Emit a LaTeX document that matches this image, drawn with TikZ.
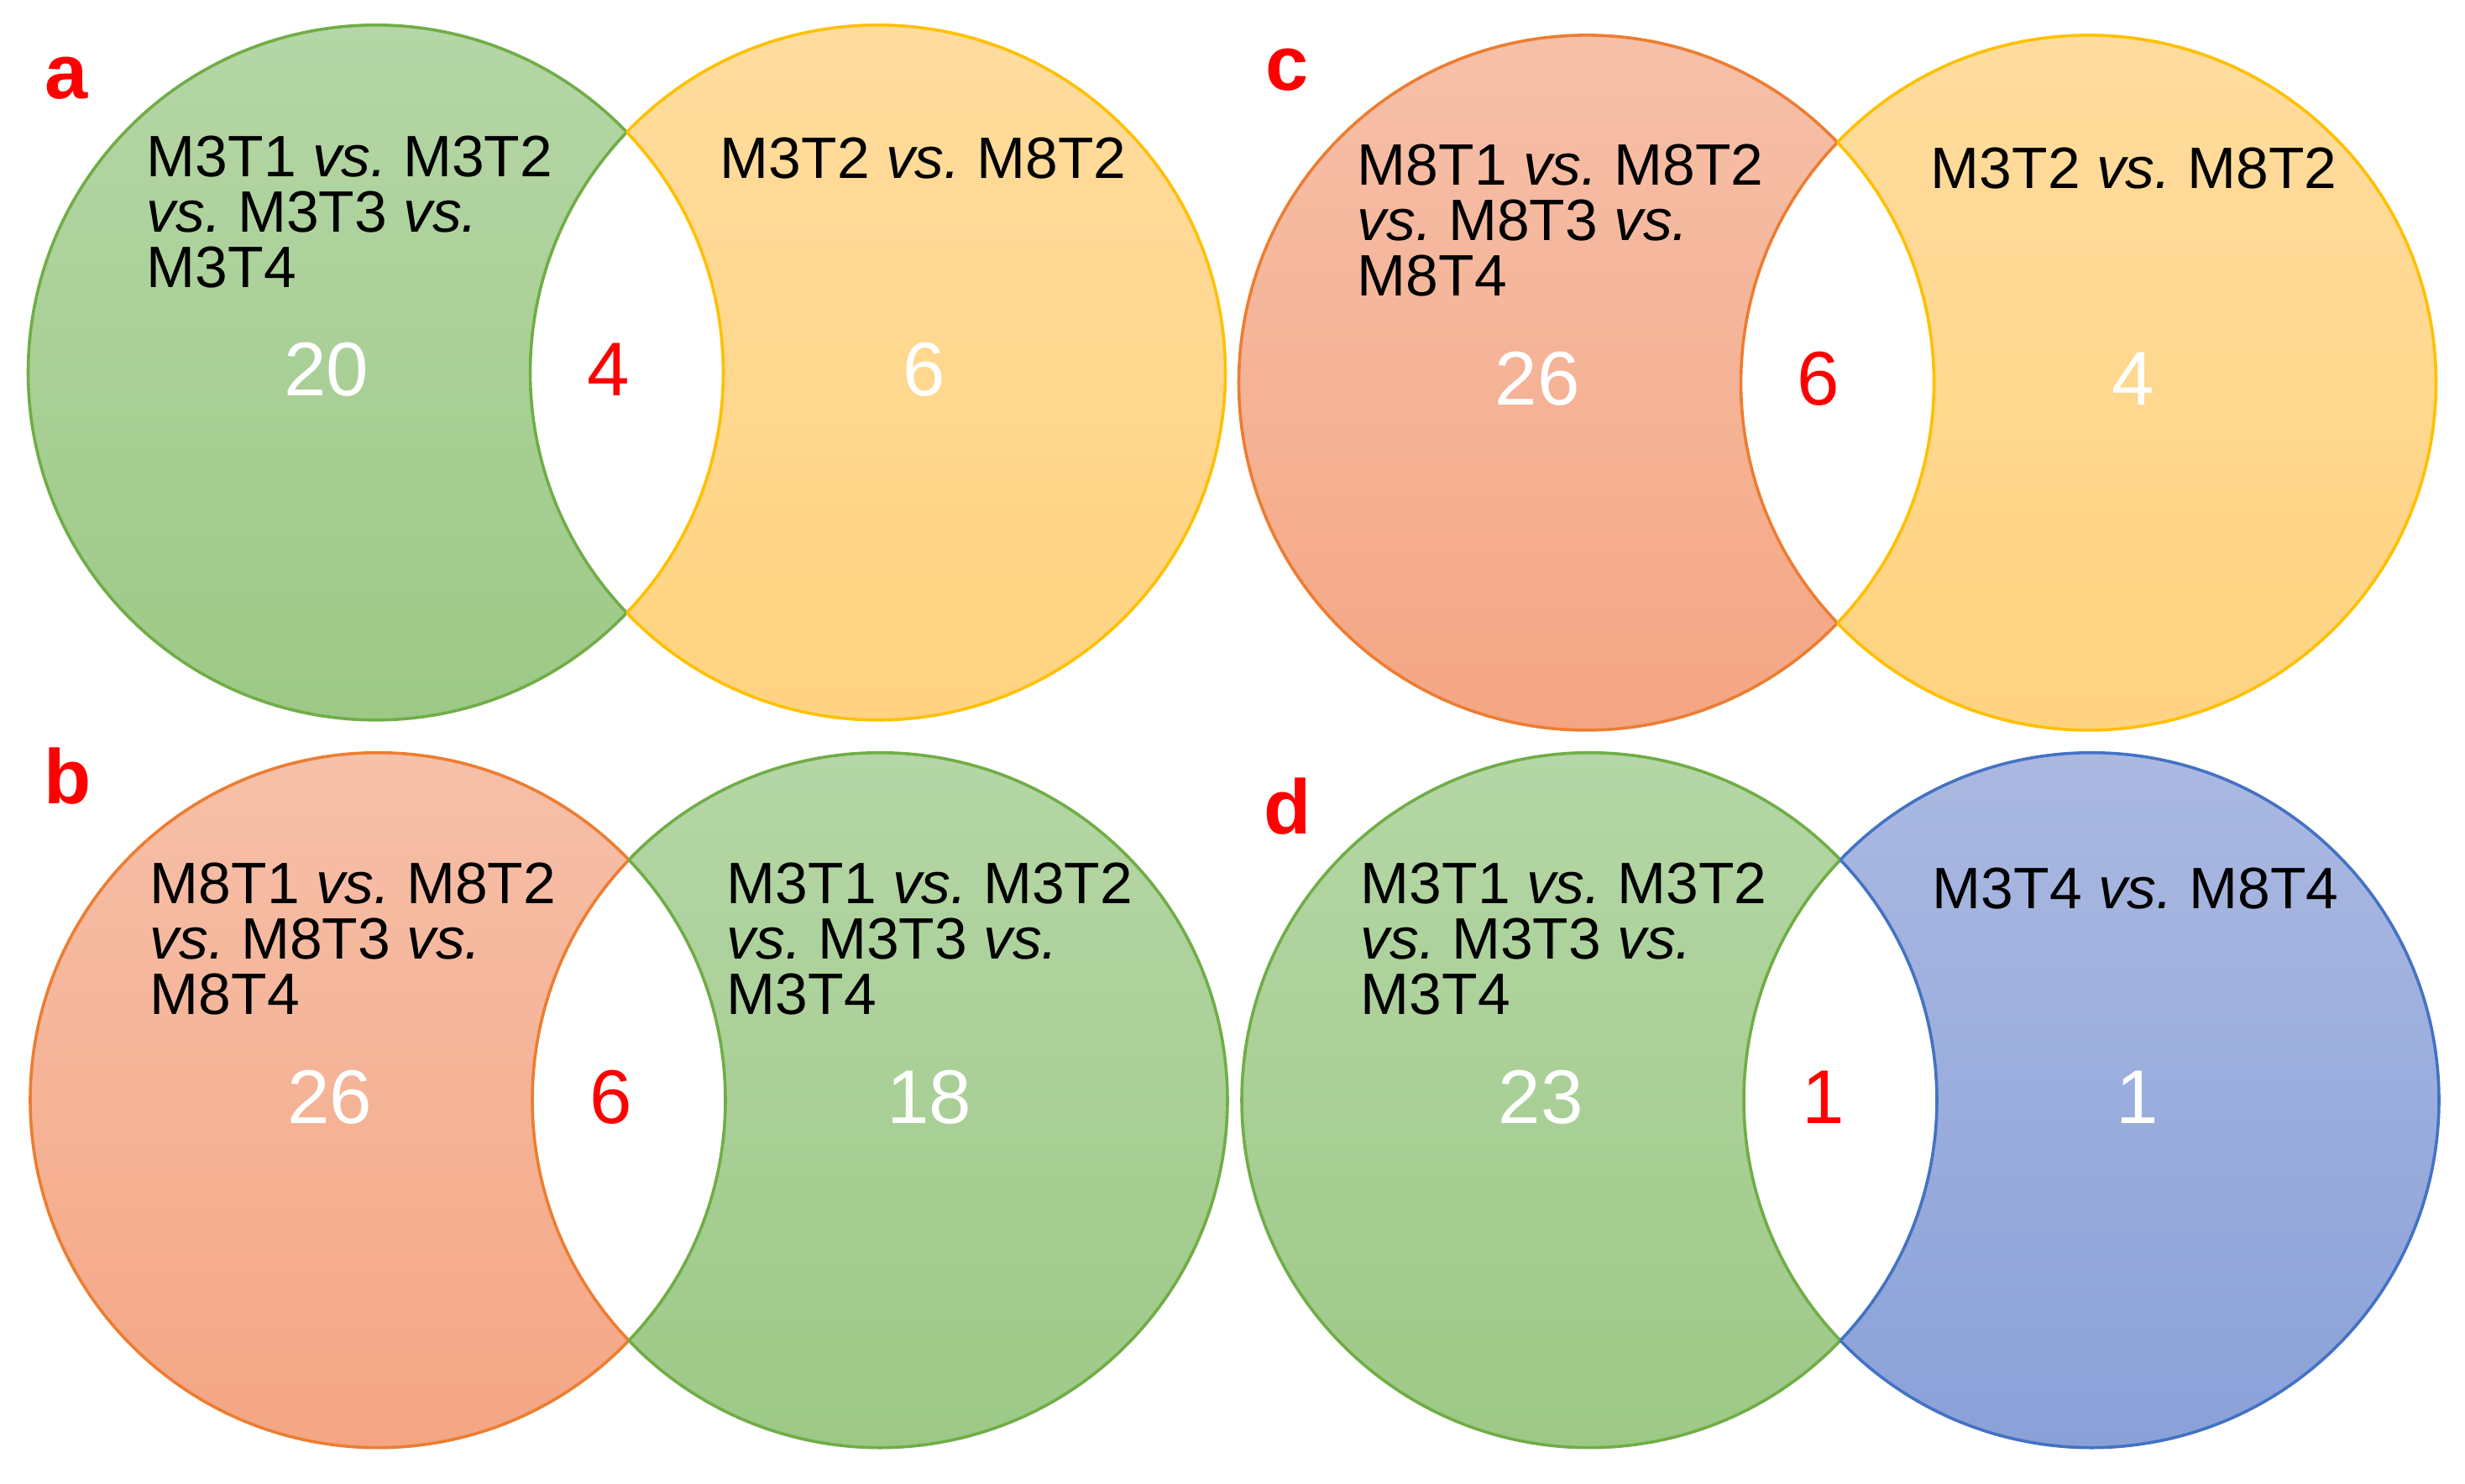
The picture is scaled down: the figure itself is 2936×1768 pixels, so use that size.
\documentclass[tikz,border=0pt]{standalone}
\usepackage{fontspec}
\setmainfont{Liberation Sans}
\frenchspacing
\usetikzlibrary{calc}
\definecolor{grT}{HTML}{B5D6A6}
\definecolor{grB}{HTML}{9DC986}
\definecolor{grE}{HTML}{70AD47}
\definecolor{yeT}{HTML}{FFDC9E}
\definecolor{yeB}{HTML}{FFD380}
\definecolor{yeE}{HTML}{FFC000}
\definecolor{saT}{HTML}{F6C0A9}
\definecolor{saB}{HTML}{F4A684}
\definecolor{saE}{HTML}{ED7D31}
\definecolor{blT}{HTML}{ABB9E1}
\definecolor{blB}{HTML}{8AA1D8}
\definecolor{blE}{HTML}{4472C4}
\definecolor{numred}{HTML}{FF0000}
\newcommand{\vennpair}[5]{%
 \coordinate (#1L) at (#2,#3);
 \coordinate (#1R) at (#2+598,#3);
 \shade[top color=#4T,bottom color=#4B] (#1L) circle[radius=414];
 \shade[top color=#5T,bottom color=#5B] (#1R) circle[radius=414];
 \begin{scope}
  \clip (#1L) circle[radius=414];
  \fill[white] (#1R) circle[radius=414];
 \end{scope}
 \draw[vedge,#4E] ($(#1L)+(43.76:414)$) arc[start angle=43.76,end angle=316.24,radius=414];
 \draw[vedge,#4E] ($(#1R)+(136.24:414)$) arc[start angle=136.24,end angle=223.76,radius=414];
 \draw[vedge,#5E] ($(#1R)+(223.76:414)$) arc[start angle=223.76,end angle=496.24,radius=414];
 \draw[vedge,#5E] ($(#1L)+(-43.76:414)$) arc[start angle=-43.76,end angle=43.76,radius=414];
}
\begin{document}
\begin{tikzpicture}[x=0.25pt,y=-0.25pt,
  vedge/.style={line width=0.9pt},
  lbl/.style={font=\fontsize{17.4}{16.5}\selectfont, align=left, inner sep=0, anchor=base west, text=black},
  num/.style={font=\fontsize{22.7}{27}\selectfont, inner sep=0, text=white},
  inum/.style={num, text=numred},
  plab/.style={font=\fontsize{23}{27}\selectfont\bfseries, text=numred, inner sep=0, anchor=base west}]
\fill[white] (0,0) rectangle (2936,1768);
\useasboundingbox (0,0) rectangle (2936,1768);
\vennpair{a}{447.5}{443.8}{gr}{ye}
\vennpair{c}{1889.5}{455.9}{sa}{ye}
\vennpair{b}{450}{1310.7}{sa}{gr}
\vennpair{d}{1893}{1310.7}{gr}{bl}
% panel letters
\node[plab] (pa) at (53,117) {a};
\node[plab] (pb) at (52,957) {b};
\node[plab] (pc) at (1507,107) {c};
\node[plab] (pd) at (1505,993) {d};
% panel a (multi-line labels: anchor at last baseline)
\node[lbl] (aLt) at (174,342) {M3T1 \textit{vs.} M3T2\\\textit{vs.} M3T3 \textit{vs.}\\M3T4};
\node[lbl] (aRt) at (857,212) {M3T2 \textit{vs.} M8T2};
\node[num] (aLn) at (389,440) {20};
\node[inum] (aIn) at (725,440) {4};
\node[num] (aRn) at (1101,440) {6};
% panel c
\node[lbl] (cLt) at (1616,352) {M8T1 \textit{vs.} M8T2\\\textit{vs.} M8T3 \textit{vs.}\\M8T4};
\node[lbl] (cRt) at (2299,224) {M3T2 \textit{vs.} M8T2};
\node[num] (cLn) at (1831,451) {26};
\node[inum] (cIn) at (2166,451) {6};
\node[num] (cRn) at (2541,451) {4};
% panel b
\node[lbl] (bLt) at (178,1208) {M8T1 \textit{vs.} M8T2\\\textit{vs.} M8T3 \textit{vs.}\\M8T4};
\node[lbl] (bRt) at (865,1208) {M3T1 \textit{vs.} M3T2\\\textit{vs.} M3T3 \textit{vs.}\\M3T4};
\node[num] (bLn) at (393,1307) {26};
\node[inum] (bIn) at (728,1307) {6};
\node[num] (bRn) at (1107,1307) {18};
% panel d
\node[lbl] (dLt) at (1620,1208) {M3T1 \textit{vs.} M3T2\\\textit{vs.} M3T3 \textit{vs.}\\M3T4};
\node[lbl] (dRt) at (2301,1082) {M3T4 \textit{vs.} M8T4};
\node[num] (dLn) at (1835,1307) {23};
\node[inum] (dIn) at (2172,1307) {1};
\node[num] (dRn) at (2546,1307) {1};
\end{tikzpicture}
\end{document}
